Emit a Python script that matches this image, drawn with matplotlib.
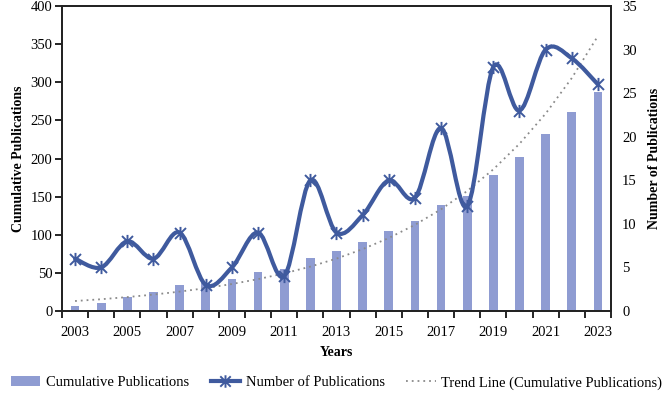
import numpy as np
import matplotlib
matplotlib.use("Agg")
import matplotlib.pyplot as plt
from matplotlib.path import Path
from matplotlib.patches import PathPatch
from matplotlib.lines import Line2D
from matplotlib.patches import Patch

plt.rcParams['font.family'] = ['Liberation Serif', 'DejaVu Serif']

years = list(range(2003, 2024))
cumulative = [6, 11, 19, 25, 34, 37, 42, 51, 55, 70, 79, 90, 105, 118, 139, 151, 179, 202, 232, 261, 287]
publications = [6, 5, 8, 6, 9, 3, 5, 9, 4, 15, 9, 11, 15, 13, 21, 12, 28, 23, 30, 29, 26]
tick_labels = [str(y) if (y - 2003) % 2 == 0 else '' for y in years]

bar_color = '#8f9cd2'
line_color = '#3f5a9e'


def smooth_path(x, y):
    # Catmull-Rom through the points, drawn as cubic Bezier segments
    pts = np.column_stack([x, y]).astype(float)
    n = len(pts)
    verts = [pts[0]]
    codes = [Path.MOVETO]
    for i in range(n - 1):
        p0 = pts[i - 1] if i > 0 else pts[i]
        p1 = pts[i]
        p2 = pts[i + 1]
        p3 = pts[i + 2] if i + 2 < n else pts[i + 1]
        c1 = p1 + (p2 - p0) / 6.0
        c2 = p2 - (p3 - p1) / 6.0
        verts += [c1, c2, p2]
        codes += [Path.CURVE4] * 3
    return Path(verts, codes)


# star marker as in Excel: an x with a vertical bar
star = Path([(-1, -1), (1, 1), (-1, 1), (1, -1), (0, -1.2), (0, 1.2)],
            [Path.MOVETO, Path.LINETO, Path.MOVETO, Path.LINETO, Path.MOVETO, Path.LINETO])

fig = plt.figure(figsize=(6.65, 4.0), dpi=100)
ax = fig.add_axes([0.0932, 0.2225, 0.8256, 0.7625])
x = np.arange(len(years))

ax.bar(x, cumulative, width=0.33, color=bar_color, zorder=2)

# exponential trend line of the cumulative series
coef = np.polyfit(x, np.log(cumulative), 1)
trend = np.exp(np.polyval(coef, x))
ax.plot(x, trend, linestyle=(0, (1, 2.2)), color='#8a8a8a', linewidth=1.3, zorder=3)

ax.set_xlim(-0.5, len(years) - 0.5)
ax.set_ylim(0, 400)
ax.set_yticks(range(0, 401, 50))
ax.set_xticks(x)
ax.set_xticklabels(tick_labels)
ax.set_xticks(np.arange(-0.5, len(years)), minor=True)
ax.tick_params(axis='x', which='major', length=0, pad=11, labelsize=10.5)
ax.tick_params(axis='x', which='minor', length=5, width=1.2, direction='out')
ax.tick_params(axis='y', length=5, width=1.2, direction='out', labelsize=10.5, pad=2)
ax.set_ylabel('Cumulative Publications', fontsize=10, fontweight='bold', labelpad=4)
ax.set_xlabel('Years', fontsize=10, fontweight='bold', labelpad=5)
for s in ax.spines.values():
    s.set_linewidth(1.3)
    s.set_color('#222222')

ax2 = ax.twinx()
ax2.set_ylim(0, 35)
ax2.set_yticks(range(0, 36, 5))
ax2.tick_params(axis='y', length=0, labelsize=10.5, pad=8)
ax2.set_ylabel('Number of Publications', fontsize=10, fontweight='bold', labelpad=8)
ax2.add_patch(PathPatch(smooth_path(x, publications), facecolor='none',
                        edgecolor=line_color, linewidth=3, zorder=4,
                        capstyle='round', joinstyle='round'))
ax2.plot(x, publications, linestyle='none', marker=star, markersize=9.5,
         markeredgewidth=1.4, markeredgecolor=line_color, zorder=5)
for s in ax2.spines.values():
    s.set_linewidth(1.3)
    s.set_color('#222222')

handles = [
    Patch(facecolor=bar_color, edgecolor='none'),
    Line2D([], [], color=line_color, linewidth=3, marker=star, markersize=9,
           markeredgewidth=1.4, markeredgecolor=line_color),
    Line2D([], [], color='#8a8a8a', linewidth=1.3, linestyle=(0, (1, 2.2))),
]
labels = ['Cumulative Publications', 'Number of Publications',
          'Trend Line (Cumulative Publications)']
fig.legend(handles, labels, loc='center', bbox_to_anchor=(0.506, 0.043), ncol=3,
           frameon=False, fontsize=10.5, handlelength=2.0, handletextpad=0.4,
           columnspacing=1.5, borderpad=0.1)

fig.savefig('out.png', dpi=100)
